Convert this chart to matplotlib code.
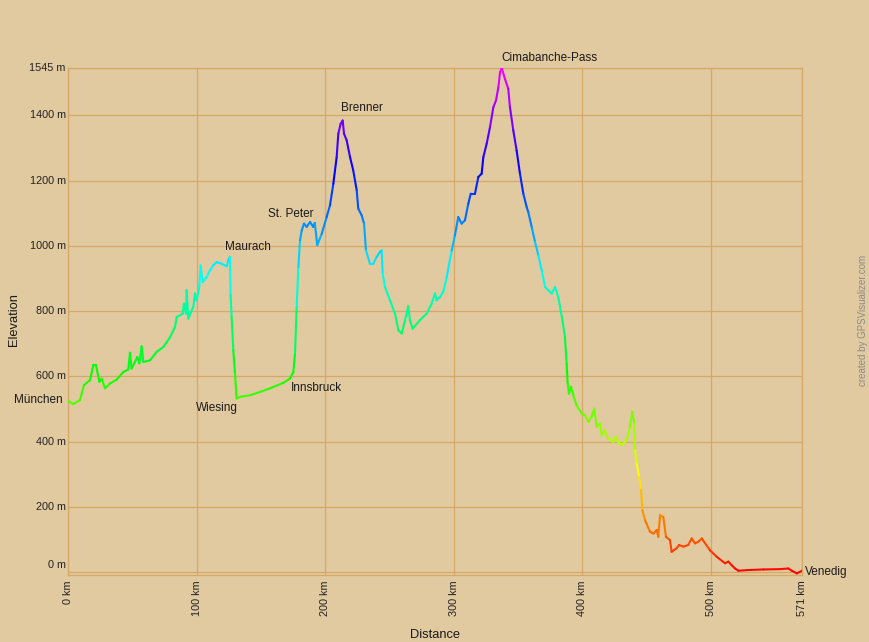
import numpy as np
import matplotlib
matplotlib.use("Agg")
import matplotlib.pyplot as plt
from matplotlib.collections import LineCollection
from matplotlib.colors import hsv_to_rgb
import matplotlib.transforms as mtransforms

plt.rcParams['font.family'] = ['Liberation Sans', 'DejaVu Sans']

# ---- data ----
distance_km = [
    0, 4.1, 9.3, 12.4, 17.1, 19.7, 21.8, 24.4, 26.2, 28.8, 32.7, 37.9, 43.0, 46.9, 48.2, 49.5,
    52.1, 53.9, 55.5, 57.3, 58.6, 63.8, 69.0, 74.2, 79.3, 83.2, 84.6, 87.1, 89.2, 90.2, 91.8,
    92.3, 93.6, 97.5, 98.8, 100.1, 102.1, 103.2, 104.8, 107.9, 110.5, 113.0, 115.7, 119.6,
    123.5, 124.7, 126.0, 126.5, 127.3, 128.6, 129.9, 131.2, 133.8, 141.6, 149.4, 157.1, 167.5,
    172.7, 175.3, 176.6, 177.9, 179.2, 180.5, 181.8, 183.6, 185.7, 188.3, 190.8, 192.0, 193.9,
    197.4, 201.2, 203.8, 206.4, 209.0, 210.3, 212.1, 213.7, 214.7, 216.8, 219.4, 221.9, 224.6,
    225.8, 228.5, 230.3, 231.8, 234.9, 237.5, 240.1, 242.7, 244.0, 244.8, 246.6, 250.5, 254.4,
    257.0, 259.6, 262.2, 264.7, 266.0, 268.1, 273.8, 279.0, 282.9, 285.5, 286.8, 289.4, 292.0,
    294.6, 298.5, 301.0, 303.6, 306.2, 308.8, 311.4, 313.3, 316.6, 319.2, 321.8, 323.1, 325.7,
    328.3, 330.9, 333.0, 334.8, 336.1, 337.4, 339.9, 342.5, 343.8, 346.4, 349.0, 351.6, 354.2,
    356.8, 358.1, 360.7, 363.3, 365.9, 368.5, 371.1, 373.6, 376.3, 378.8, 381.4, 384.2, 386.6,
    387.9, 388.7, 389.7, 391.3, 393.1, 395.7, 399.6, 402.2, 404.8, 407.3, 409.4, 411.3, 413.9,
    415.2, 417.2, 420.3, 424.2, 426.0, 428.1, 430.7, 434.6, 437.2, 439.0, 440.6, 441.1, 442.4,
    444.2, 445.8, 446.8, 448.9, 452.7, 455.4, 458.0, 459.2, 460.6, 463.1, 465.2, 468.3, 469.6,
    473.5, 475.3, 478.7, 482.5, 485.2, 487.8, 490.4, 493.0, 499.4, 504.6, 511.1, 513.7, 516.3,
    518.9, 521.5, 528.0, 540.9, 553.9, 560.4, 563.1, 567.0, 571.0,
]
elevation_m = [
    525, 515, 527, 573, 588, 634, 634, 583, 593, 563, 578, 590, 613, 621, 672, 624,
    644, 659, 640, 692, 644, 649, 675, 690, 719, 751, 782, 787, 792, 823, 792,
    864, 777, 813, 854, 833, 874, 940, 889, 904, 925, 940, 950, 945,
    937, 956, 966, 848, 782, 680, 609, 532, 537, 542, 552, 563, 580,
    593, 613, 670, 813, 935, 1017, 1047, 1068, 1058, 1073, 1058, 1070, 1002,
    1037, 1088, 1124, 1190, 1272, 1344, 1374, 1384, 1344, 1323, 1272, 1231, 1170,
    1114, 1093, 1068, 986, 945, 945, 966, 981, 986, 915, 874, 833, 792,
    741, 731, 772, 815, 772, 746, 772, 792, 823, 854, 833, 843, 860,
    904, 986, 1032, 1088, 1068, 1078, 1129, 1160, 1160, 1211, 1221, 1272, 1313,
    1364, 1425, 1446, 1486, 1532, 1545, 1512, 1481, 1425, 1354, 1292, 1221, 1160,
    1119, 1103, 1058, 1012, 971, 925, 874, 864, 854, 874, 843, 782, 721,
    639, 578, 547, 568, 542, 511, 486, 481, 460, 476, 501, 445, 455,
    420, 435, 409, 399, 414, 399, 389, 404, 445, 491, 455, 374, 333,
    292, 251, 190, 159, 124, 118, 129, 108, 175, 169, 108, 98, 62,
    73, 83, 78, 83, 103, 88, 93, 103, 67, 47, 27, 32, 21,
    11, 4, 6, 8, 9, 11, 4, -4, 4,
]

place_names = ["München", "Wiesing", "Maurach", "Innsbruck", "St. Peter", "Brenner",
               "Cimabanche-Pass", "Venedig"]
place_km = [-3.9, 99.6, 122.1, 173.5, 155.6, 212.4, 336.8, 573.3]
place_elev = [527, 503, 996, 564, 1097, 1422, 1575, 0]
place_ha = ["right", "left", "left", "left", "left", "left", "left", "left"]

x_ticks = [0, 100, 200, 300, 400, 500, 571]
x_tick_labels = ["0 km", "100 km", "200 km", "300 km", "400 km", "500 km", "571 km"]
y_ticks = [0, 200, 400, 600, 800, 1000, 1200, 1400, 1545]
y_tick_labels = ["0 m", "200 m", "400 m", "600 m", "800 m", "1000 m", "1200 m", "1400 m", "1545 m"]

# ---- figure ----
BG = "#E2CAA0"
GRID = "#D5A868"
W, H = 869, 642
fig = plt.figure(figsize=(W / 100, H / 100), dpi=100, facecolor=BG)
ax = fig.add_axes([68 / W, 1 - 575 / H, (802 - 68) / W, (575 - 68) / H])
ax.set_facecolor(BG)
ax.set_xlim(0, 571)
ax.set_ylim(-9, 1545)

for s in ax.spines.values():
    s.set_color(GRID)
    s.set_linewidth(0.9)

for xv in x_ticks:
    ax.axvline(xv, color=GRID, lw=0.9, zorder=1)
for yv in y_ticks:
    ax.axhline(yv, color=GRID, lw=0.9, zorder=1)

# coloured profile
x = np.asarray(distance_km, float)
y = np.asarray(elevation_m, float)
pts = np.column_stack([x, y]).reshape(-1, 1, 2)
segs = np.concatenate([pts[:-1], pts[1:]], axis=1)
mid = 0.5 * (y[:-1] + y[1:])
emin, emax = y.min(), y.max()
hue = (300.0 / 360.0) * (mid - emin) / (emax - emin)
cols = hsv_to_rgb(np.column_stack([hue, np.ones_like(hue), np.ones_like(hue)]))
lc = LineCollection(segs, colors=cols, linewidths=1.5, zorder=3, capstyle='round', joinstyle='round')
ax.add_collection(lc)

# ticks
ax.set_xticks(x_ticks)
ax.set_xticklabels(x_tick_labels, rotation=90, fontsize=7.8, color="#222222")
ax.tick_params(axis='x', length=0, pad=4)
ax.set_yticks([])

ytrans = mtransforms.blended_transform_factory(ax.transAxes, ax.transData)
for v, lab in zip(y_ticks, y_tick_labels):
    yy = 22 if v == 0 else v
    ax.text(-0.003, yy, lab, transform=ytrans, ha="right", va="center",
            fontsize=7.8, color="#222222", clip_on=False)

for name, km, el, ha in zip(place_names, place_km, place_elev, place_ha):
    ax.text(km, el, name, ha=ha, va="center", fontsize=8.5, color="#1a1a1a", clip_on=False, zorder=5)

fig.text(435 / W, 1 - 635 / H, "Distance", ha="center", va="center", fontsize=9.3, color="#1a1a1a")
fig.text(14 / W, 1 - 320 / H, "Elevation", ha="center", va="center", rotation=90,
         fontsize=9.3, color="#1a1a1a")
fig.text(863 / W, 1 - 320 / H, "created by GPSVisualizer.com", ha="center", va="center",
         rotation=90, fontsize=7, color="#8a8a8a")

fig.savefig("out.png", dpi=100, facecolor=BG)
